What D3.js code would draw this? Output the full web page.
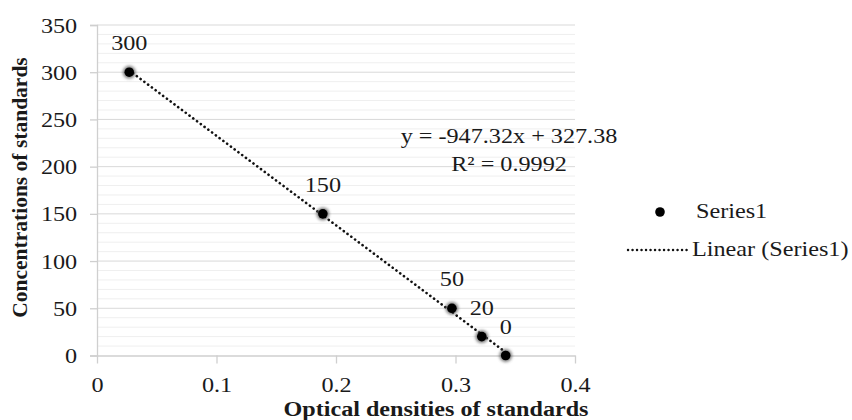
<!DOCTYPE html>
<html><head><meta charset="utf-8">
<script src="https://cdn.jsdelivr.net/npm/d3@7/dist/d3.min.js"></script>
<style>body{margin:0;background:#fff}text{font-family:"Liberation Serif","Times New Roman",serif;fill:#1a1a1a}</style>
</head><body><svg id="c" width="852" height="420"></svg>
<script>
const xValues = [0.027, 0.189, 0.297, 0.322, 0.342];
const yValues = [300, 150, 50, 20, 0];
const pointLabels = ["300", "150", "50", "20", "0"];
const xTicks = [0, 0.1, 0.2, 0.3, 0.4];
const yTicks = [0, 50, 100, 150, 200, 250, 300, 350];
const slope = -947.32, intercept = 327.38;
const eqLines = ["y = -947.32x + 327.38", "R² = 0.9992"];
const legendLabels = ["Series1", "Linear (Series1)"];

const FS = "22px", SX = 1.1;
const svg = d3.select("#c");
const L = 97, R = 575, T = 25, B = 355.5;
const x = d3.scaleLinear().domain([0, 0.4]).range([L, R]);
const y = d3.scaleLinear().domain([0, 350]).range([B, T]);

const defs = svg.append("defs");
defs.append("filter").attr("id","glow").attr("x","-1").attr("y","-1").attr("width","3").attr("height","3")
  .append("feGaussianBlur").attr("stdDeviation", 1.6);

function label(parent, tx, ty, str, anchor, bold, fs, sx) {
  const t = parent.append("text")
    .attr("transform", `translate(${tx},${ty}) scale(${sx || SX},1)`)
    .attr("text-anchor", anchor).style("font-size", fs || FS).text(str);
  if (bold) t.style("font-weight", "bold");
  return t;
}

// minor gridlines
const minor = d3.range(0, 351, 10).filter(v => v % 50 !== 0);
svg.append("g").selectAll("line").data(minor).join("line")
  .attr("x1", L).attr("x2", R).attr("y1", d => y(d)).attr("y2", d => y(d))
  .attr("stroke", "#efefef").attr("stroke-width", 1);
// major gridlines
svg.append("g").selectAll("line").data(yTicks.filter(v => v > 0)).join("line")
  .attr("x1", L).attr("x2", R).attr("y1", d => y(d)).attr("y2", d => y(d))
  .attr("stroke", "#d9d9d9").attr("stroke-width", 1);

// y axis
const yAxis = svg.append("g").attr("transform", `translate(${L},0)`)
  .call(d3.axisLeft(y).tickValues(yTicks).tickSize(7).tickPadding(11).tickFormat(d3.format("d")));
yAxis.select(".domain").attr("stroke", "#cfcfcf").attr("stroke-width", 1.3);
yAxis.selectAll(".tick line").attr("stroke", "#cfcfcf").attr("stroke-width", 1.3);
yAxis.selectAll(".tick text").style("font-size", FS).attr("fill", "#1a1a1a")
  .style("font-family", '"Liberation Serif",serif').attr("transform", `scale(${SX},1)`);

// x axis
const xAxis = svg.append("g").attr("transform", `translate(0,${B})`)
  .call(d3.axisBottom(x).tickValues(xTicks).tickSize(8).tickSizeOuter(0).tickPadding(13).tickFormat(d => d === 0 ? "0" : d3.format(".1f")(d)));
xAxis.select(".domain").attr("stroke", "#cfcfcf").attr("stroke-width", 1.3);
xAxis.selectAll(".tick line").attr("stroke", "#cfcfcf").attr("stroke-width", 1.3);
xAxis.selectAll(".tick text").style("font-size", FS).attr("fill", "#1a1a1a")
  .style("font-family", '"Liberation Serif",serif').attr("transform", `scale(${SX},1)`);

// trendline
const x0 = d3.min(xValues), x1 = d3.max(xValues);
svg.append("line")
  .attr("x1", x(x0)).attr("y1", y(slope * x0 + intercept))
  .attr("x2", x(x1)).attr("y2", y(slope * x1 + intercept))
  .attr("stroke", "#111").attr("stroke-width", 2.6)
  .attr("stroke-dasharray", "0.1 4.6").attr("stroke-linecap", "round");

// points
const pts = svg.append("g").selectAll("g").data(xValues).join("g")
  .attr("transform", (d, i) => `translate(${x(d)},${y(yValues[i])})`);
pts.append("circle").attr("r", 6.4).attr("fill", "#555").attr("opacity", 0.75).attr("filter", "url(#glow)");
pts.append("circle").attr("r", 4.8).attr("fill", "#000");

// point labels
const pl = svg.append("g");
xValues.forEach((d, i) => label(pl, x(d), y(yValues[i]) - 22, pointLabels[i], "middle"));

// equation
const eq = svg.append("g");
eqLines.forEach((s, i) => label(eq, 509, 143 + i * 28, s, "middle"));

// axis titles
svg.append("text").attr("transform", `translate(27,187.5) rotate(-90)`)
  .attr("text-anchor", "middle").style("font-size", "21.5px").style("font-weight", "bold")
  .text("Concentrations of standards");
label(svg, 436, 416, "Optical densities of standards", "middle", true, "21px", 1.15);

// legend
const lg = svg.append("g");
lg.append("circle").attr("cx", 660).attr("cy", 212).attr("r", 4.8).attr("fill", "#000");
label(lg, 696, 218, legendLabels[0], "start");
lg.append("line").attr("x1", 628).attr("x2", 688).attr("y1", 250).attr("y2", 250)
  .attr("stroke", "#111").attr("stroke-width", 2.4)
  .attr("stroke-dasharray", "0.1 4.4").attr("stroke-linecap", "round");
label(lg, 692, 256, legendLabels[1], "start");
</script></body></html>
